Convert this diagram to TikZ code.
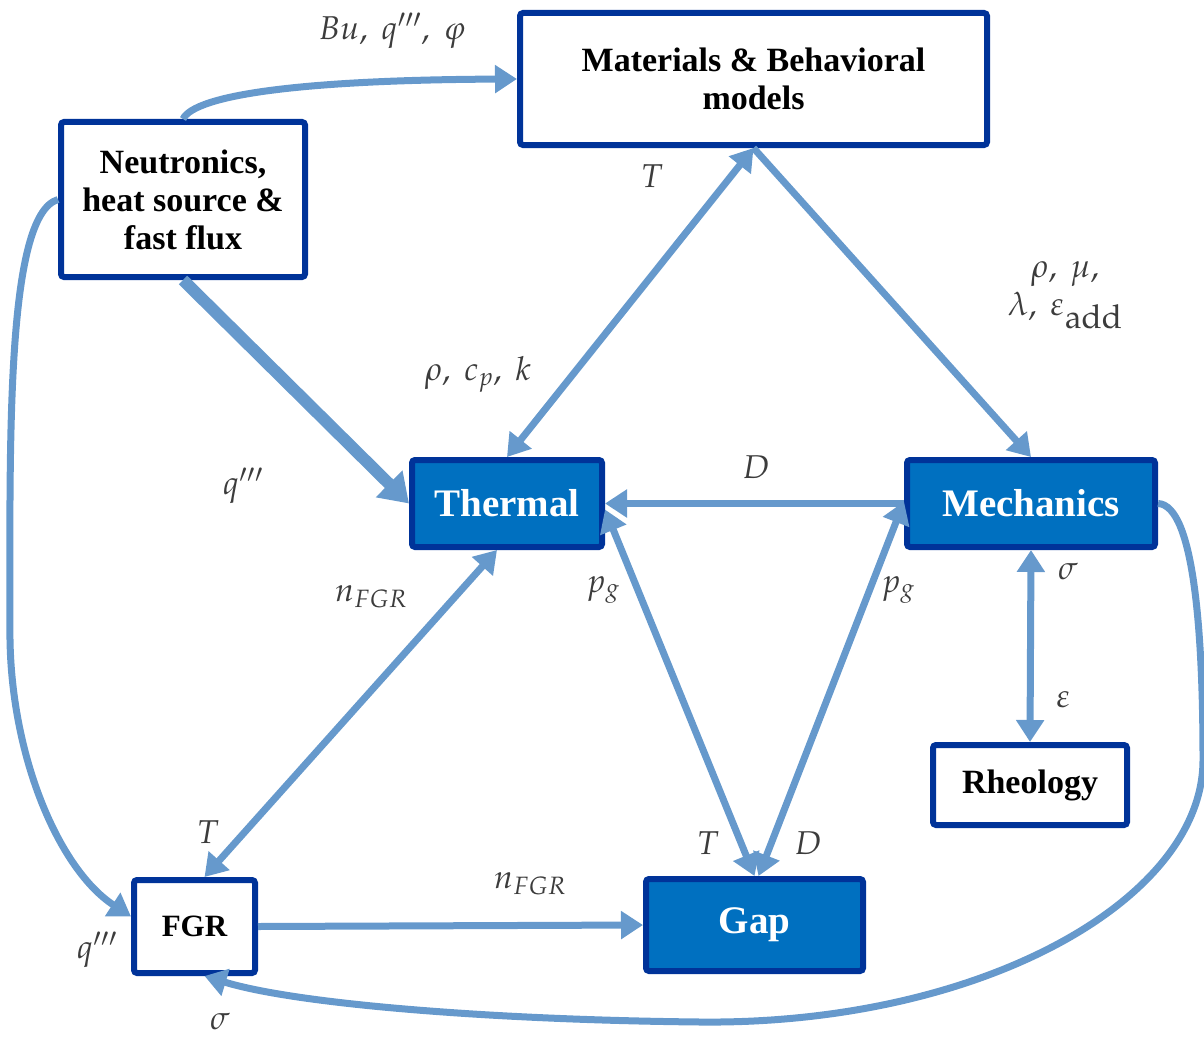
\documentclass[tikz,border=0pt]{standalone}
\usepackage{mathpazo}
\usepackage[no-math]{fontspec}
\setmainfont{Liberation Serif}
\usetikzlibrary{arrows.meta,calc}
\definecolor{bordc}{RGB}{0,51,153}
\definecolor{fillc}{RGB}{0,112,192}
\definecolor{linkc}{RGB}{102,153,204}
\definecolor{labc}{RGB}{60,60,60}
\tikzset{
  boxbase/.style={draw=bordc, line width=6pt, rounded corners=3pt, align=center, inner sep=0pt, font=\fontsize{34}{38}\selectfont\bfseries},
  wbox/.style={boxbase, fill=white, text=black},
  bbox/.style={boxbase, fill=fillc, text=white, font=\fontsize{39}{42}\selectfont\bfseries},
  link/.style={draw=linkc, line width=7pt, -{Triangle[length=22pt,width=27pt]}},
  blink/.style={draw=linkc, line width=7pt, {Triangle[length=22pt,width=27pt]}-{Triangle[length=22pt,width=27pt]}},
  thick link/.style={draw=linkc, line width=12pt, -{Triangle[length=28pt,width=36pt]}},
  lab/.style={text=labc, inner sep=0pt, font=\fontsize{33}{40}\selectfont}
}
\begin{document}
\begin{tikzpicture}[x=1pt, y={(0pt,-1pt)}]
\useasboundingbox (0,0) rectangle (1204,1038);
% boxes
\node[wbox, minimum width=467, minimum height=132] (mat) at (753.5,79) {Materials \& Behavioral\\models};
\node[wbox, minimum width=244, minimum height=155] (neu) at (183,199.5) {Neutronics,\\heat source \&\\fast flux};
\node[bbox, minimum width=190, minimum height=87] (th) at (507,503.5) {Thermal};
\node[bbox, minimum width=248, minimum height=87] (mech) at (1031,503.5) {Mechanics};
\node[wbox, minimum width=194, minimum height=80] (rh) at (1030,785) {Rheology};
\node[wbox, minimum width=121, minimum height=93, font=\fontsize{31}{36}\selectfont\bfseries] (fgr) at (194.5,926.5) {FGR};
\node[bbox, minimum width=217, minimum height=92] (gap) at (754.5,925) {Gap};
% connectors
\draw[link] (neu.north) .. controls (195,95) and (300,80) .. (mat.west);
\draw[blink] (mat.south) -- (th.north);
\draw[link] (mat.south) -- (mech.north);
\draw[thick link] (neu.south) -- (th.west);
\draw[link] (mech.west) -- (th.east);
\draw[blink] ($(th.south)+(-10,0)$) -- ($(fgr.north)+(10,0)$);
\draw[blink] ($(th.east)+(0,6)$) -- (gap.north);
\draw[blink] ($(mech.west)+(0,-2)$) -- ($(gap.north)+(4,0)$);
\draw[blink] (mech.south) -- (rh.north);
\draw[link] (fgr.east) -- (gap.west);
\draw[link] (neu.west) .. controls (5,215) and (10,450) .. (10,640)
   .. controls (12,760) and (60,870) .. ($(fgr.west)+(0,-10)$);
\draw[link] (mech.east) .. controls (1195,505) and (1203,640) .. (1203,760)
   .. controls (1203,900) and (980,1025) .. (700,1022)
   .. controls (500,1020) and (300,1005) .. ($(fgr.south)+(10,0)$);
% labels
\node[lab] (l1) at (392,31) {$Bu,\ q''',\ \varphi$};
\node[lab] (l2) at (652,176) {$T$};
\node[lab] (l3) at (478,374) {$\rho,\ c_p,\ k$};
\node[lab] (l4) at (243,486) {$q'''$};
\node[lab, align=center] (l5) at (1065,295) {$\rho,\ \mu,$\\[-2pt]$\lambda,\ \varepsilon_{\textstyle\mathrm{add}}$};
\node[lab] (l6) at (756,467) {$D$};
\node[lab] (l7) at (371,597) {$n_{FGR}$};
\node[lab] (l8) at (603,590) {$p_g$};
\node[lab] (l9) at (898,590) {$p_g$};
\node[lab] (l10) at (1068,572) {$\sigma$};
\node[lab] (l11) at (1063,700) {$\varepsilon$};
\node[lab] (l12) at (208,832) {$T$};
\node[lab] (l13) at (708,843) {$T$};
\node[lab] (l14) at (808,843) {$D$};
\node[lab] (l15) at (530,884) {$n_{FGR}$};
\node[lab] (l16) at (97,950) {$q'''$};
\node[lab] (l17) at (220,1022) {$\sigma$};
\end{tikzpicture}
\end{document}
